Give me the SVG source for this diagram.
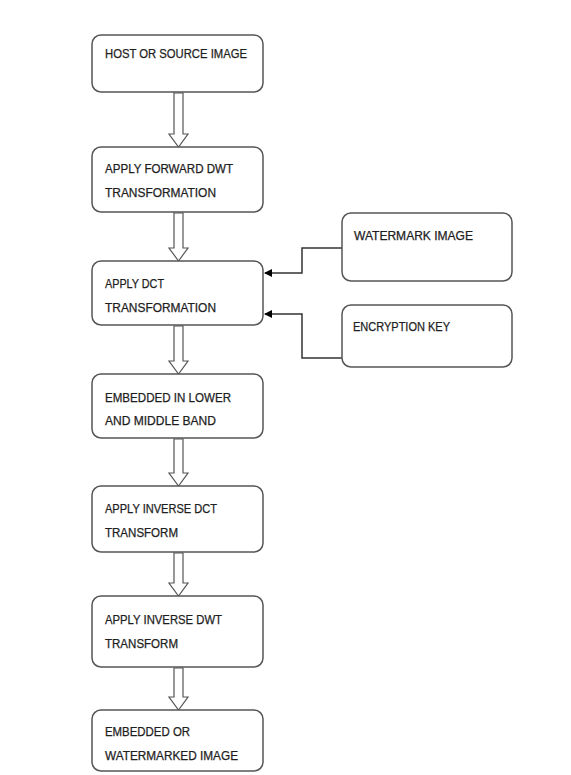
<svg xmlns="http://www.w3.org/2000/svg" width="571" height="775" viewBox="0 0 571 775">
<defs>
<style>
.box{fill:#fff;stroke:#555;stroke-width:1.5}
.t{font-family:"Liberation Sans",Arial,sans-serif;font-size:12px;fill:#1e1e1e;stroke:#1e1e1e;stroke-width:0.25}
.big{fill:#fff;stroke:#555;stroke-width:1.2}
.ln{fill:none;stroke:#333;stroke-width:1.5}
</style>
<marker id="ah" markerWidth="8" markerHeight="8" refX="7" refY="4" orient="auto" markerUnits="userSpaceOnUse">
<path d="M0,0 L8,4 L0,8 Z" fill="#000"/>
</marker>
</defs>
<rect width="571" height="775" fill="#fff"/>
<g id="connectors">
<path class="big" d="M174,93 L183,93 L183,134 L188,134 L178.5,147 L169,134 L174,134 Z"/>
<path class="big" d="M174,213 L183,213 L183,248 L188,248 L178.5,261 L169,248 L174,248 Z"/>
<path class="big" d="M174,326 L183,326 L183,361 L188,361 L178.5,374 L169,361 L174,361 Z"/>
<path class="big" d="M174,439 L183,439 L183,473 L188,473 L178.5,486 L169,473 L174,473 Z"/>
<path class="big" d="M174,553 L183,553 L183,583 L188,583 L178.5,596 L169,583 L174,583 Z"/>
<path class="big" d="M174,668 L183,668 L183,697 L188,697 L178.5,710 L169,697 L174,697 Z"/>
<polyline class="ln" points="342,248 302,248 302,273 265,273" marker-end="url(#ah)"/>
<polyline class="ln" points="342,358 302,358 302,314 265,314" marker-end="url(#ah)"/>
</g>
<g id="n1"><rect class="box" x="92" y="35" width="171" height="57" rx="9"/>
<text class="t" x="105" y="58" textLength="142" lengthAdjust="spacingAndGlyphs">HOST OR SOURCE IMAGE</text></g>
<g id="n2"><rect class="box" x="92" y="147" width="171" height="65" rx="9"/>
<text class="t" x="105" y="173" textLength="128" lengthAdjust="spacingAndGlyphs">APPLY FORWARD DWT</text>
<text class="t" x="105" y="197" textLength="111" lengthAdjust="spacingAndGlyphs">TRANSFORMATION</text></g>
<g id="n3"><rect class="box" x="92" y="261" width="171" height="64" rx="9"/>
<text class="t" x="105" y="288" textLength="59" lengthAdjust="spacingAndGlyphs">APPLY DCT</text>
<text class="t" x="105" y="312" textLength="111" lengthAdjust="spacingAndGlyphs">TRANSFORMATION</text></g>
<g id="n_wm"><rect class="box" x="342" y="213" width="170" height="68" rx="9"/>
<text class="t" x="354" y="240" textLength="119" lengthAdjust="spacingAndGlyphs">WATERMARK IMAGE</text></g>
<g id="n_key"><rect class="box" x="342" y="305" width="170" height="62" rx="9"/>
<text class="t" x="353" y="331" textLength="97" lengthAdjust="spacingAndGlyphs">ENCRYPTION KEY</text></g>
<g id="n4"><rect class="box" x="92" y="374" width="171" height="64" rx="9"/>
<text class="t" x="105" y="402" textLength="126" lengthAdjust="spacingAndGlyphs">EMBEDDED IN LOWER</text>
<text class="t" x="105" y="425" textLength="111" lengthAdjust="spacingAndGlyphs">AND MIDDLE BAND</text></g>
<g id="n5"><rect class="box" x="92" y="486" width="171" height="66" rx="9"/>
<text class="t" x="105" y="513" textLength="112" lengthAdjust="spacingAndGlyphs">APPLY INVERSE DCT</text>
<text class="t" x="105" y="537" textLength="73" lengthAdjust="spacingAndGlyphs">TRANSFORM</text></g>
<g id="n6"><rect class="box" x="92" y="596" width="171" height="71" rx="9"/>
<text class="t" x="105" y="624" textLength="117" lengthAdjust="spacingAndGlyphs">APPLY INVERSE DWT</text>
<text class="t" x="105" y="648" textLength="73" lengthAdjust="spacingAndGlyphs">TRANSFORM</text></g>
<g id="n7"><rect class="box" x="92" y="710" width="171" height="61" rx="9"/>
<text class="t" x="105" y="736" textLength="85" lengthAdjust="spacingAndGlyphs">EMBEDDED OR</text>
<text class="t" x="105" y="760" textLength="133" lengthAdjust="spacingAndGlyphs">WATERMARKED IMAGE</text></g>
</svg>
